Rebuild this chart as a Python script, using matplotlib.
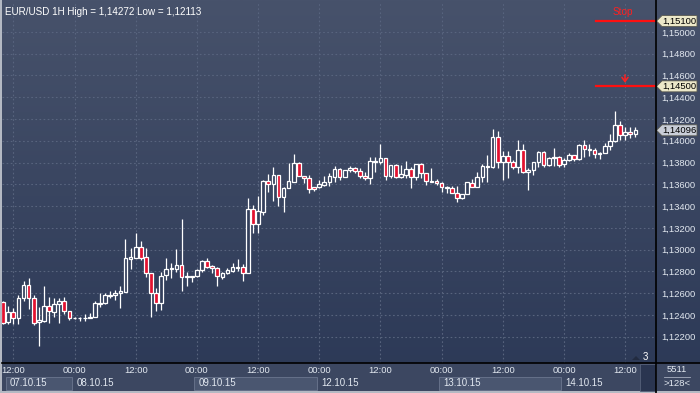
import numpy as np
import matplotlib.pyplot as plt
from matplotlib.patches import Rectangle, Polygon
from matplotlib.colors import LinearSegmentedColormap

plt.rcParams['font.family'] = ['Liberation Sans', 'DejaVu Sans']

# EUR/USD hourly bars, 07.10.15 10:00 -> 14.10.15 14:00 (weekend skipped)
opens = [
    1.12519, 1.12338, 1.12424, 1.12369, 1.12558, 1.12675, 1.12558, 1.12335, 1.12344, 1.12482,
    1.12430, 1.12498, 1.12528, 1.12436, 1.12372, 1.12372, 1.12372, 1.12372, 1.12384, 1.12500,
    1.12507, 1.12574, 1.12583, 1.12599, 1.12613, 1.12911, 1.12926, 1.13024, 1.12932, 1.12782,
    1.12599, 1.12507, 1.12767, 1.12819, 1.12825, 1.12856, 1.12746, 1.12749, 1.12758, 1.12813,
    1.12895, 1.12850, 1.12828, 1.12751, 1.12782, 1.12806, 1.12834, 1.12843, 1.12788, 1.13373,
    1.13233, 1.13348, 1.13630, 1.13600, 1.13686, 1.13481, 1.13563, 1.13624, 1.13793, 1.13676,
    1.13655, 1.13573, 1.13573, 1.13594, 1.13619, 1.13670, 1.13738, 1.13664, 1.13731, 1.13747,
    1.13722, 1.13679, 1.13655, 1.13802, 1.13802, 1.13844, 1.13679, 1.13777, 1.13670, 1.13686,
    1.13741, 1.13670, 1.13784, 1.13701, 1.13630, 1.13630, 1.13609, 1.13569, 1.13569, 1.13523,
    1.13472, 1.13508, 1.13609, 1.13578, 1.13670, 1.13756, 1.13756, 1.14032, 1.13802, 1.13860,
    1.13802, 1.13756, 1.13915, 1.13716, 1.13729, 1.13802, 1.13900, 1.13777, 1.13839, 1.13854,
    1.13787, 1.13823, 1.13869, 1.13830, 1.13961, 1.13918, 1.13915, 1.13878, 1.13885, 1.13952,
    1.14001, 1.14145, 1.14053, 1.14078, 1.14059,
]
highs = [
    1.12528, 1.12482, 1.12461, 1.12583, 1.12712, 1.12742, 1.12583, 1.12473, 1.12669, 1.12567,
    1.12553, 1.12553, 1.12567, 1.12436, 1.12382, 1.12384, 1.12406, 1.12415, 1.12528, 1.12599,
    1.12599, 1.12620, 1.12629, 1.12666, 1.13095, 1.13012, 1.13153, 1.13079, 1.13012, 1.12785,
    1.12645, 1.12792, 1.12920, 1.12874, 1.13003, 1.13281, 1.12797, 1.12758, 1.12819, 1.12905,
    1.12926, 1.12859, 1.12843, 1.12797, 1.12828, 1.12874, 1.12911, 1.12868, 1.13472, 1.13410,
    1.13493, 1.13640, 1.13692, 1.13762, 1.13686, 1.13578, 1.13793, 1.13878, 1.13808, 1.13676,
    1.13686, 1.13575, 1.13640, 1.13679, 1.13701, 1.13771, 1.13753, 1.13731, 1.13771, 1.13762,
    1.13753, 1.13716, 1.13848, 1.13848, 1.13970, 1.13844, 1.13777, 1.13787, 1.13777, 1.13814,
    1.13762, 1.13784, 1.13799, 1.13701, 1.13753, 1.13649, 1.13619, 1.13587, 1.13584, 1.13584,
    1.13508, 1.13624, 1.13649, 1.13710, 1.13784, 1.13869, 1.14108, 1.14093, 1.13906, 1.13906,
    1.13823, 1.14007, 1.13968, 1.13747, 1.13802, 1.13906, 1.13906, 1.13854, 1.13936, 1.13860,
    1.13844, 1.13885, 1.13869, 1.13968, 1.14007, 1.13968, 1.13931, 1.13900, 1.13977, 1.14059,
    1.14272, 1.14184, 1.14129, 1.14124, 1.14129,
]
lows = [
    1.12317, 1.12314, 1.12314, 1.12314, 1.12528, 1.12452, 1.12307, 1.12113, 1.12338, 1.12329,
    1.12384, 1.12329, 1.12406, 1.12353, 1.12362, 1.12347, 1.12347, 1.12369, 1.12381, 1.12476,
    1.12500, 1.12553, 1.12537, 1.12466, 1.12610, 1.12819, 1.12923, 1.12905, 1.12751, 1.12384,
    1.12436, 1.12445, 1.12721, 1.12737, 1.12797, 1.12623, 1.12669, 1.12705, 1.12749, 1.12797,
    1.12828, 1.12788, 1.12669, 1.12727, 1.12776, 1.12797, 1.12804, 1.12714, 1.12785, 1.13150,
    1.13150, 1.13318, 1.13532, 1.13447, 1.13404, 1.13348, 1.13563, 1.13621, 1.13673, 1.13615,
    1.13517, 1.13541, 1.13563, 1.13587, 1.13587, 1.13619, 1.13640, 1.13664, 1.13710, 1.13707,
    1.13661, 1.13640, 1.13600, 1.13710, 1.13787, 1.13640, 1.13655, 1.13655, 1.13661, 1.13655,
    1.13563, 1.13640, 1.13655, 1.13594, 1.13619, 1.13594, 1.13532, 1.13523, 1.13517, 1.13435,
    1.13465, 1.13508, 1.13573, 1.13578, 1.13624, 1.13624, 1.13747, 1.13753, 1.13640, 1.13655,
    1.13741, 1.13701, 1.13701, 1.13548, 1.13686, 1.13762, 1.13762, 1.13771, 1.13768, 1.13762,
    1.13762, 1.13814, 1.13814, 1.13823, 1.13854, 1.13863, 1.13844, 1.13830, 1.13885, 1.13915,
    1.13991, 1.14007, 1.14007, 1.14023, 1.14037,
]
closes = [
    1.12326, 1.12424, 1.12369, 1.12558, 1.12675, 1.12558, 1.12329, 1.12353, 1.12482, 1.12436,
    1.12500, 1.12528, 1.12436, 1.12369, 1.12375, 1.12375, 1.12375, 1.12384, 1.12507, 1.12512,
    1.12583, 1.12583, 1.12601, 1.12620, 1.12920, 1.12932, 1.13024, 1.12926, 1.12782, 1.12599,
    1.12507, 1.12760, 1.12819, 1.12834, 1.12856, 1.12746, 1.12758, 1.12758, 1.12813, 1.12895,
    1.12843, 1.12828, 1.12758, 1.12782, 1.12813, 1.12843, 1.12843, 1.12788, 1.13373, 1.13233,
    1.13355, 1.13630, 1.13600, 1.13686, 1.13481, 1.13563, 1.13630, 1.13793, 1.13676, 1.13655,
    1.13554, 1.13554, 1.13603, 1.13619, 1.13676, 1.13738, 1.13664, 1.13731, 1.13753, 1.13722,
    1.13679, 1.13655, 1.13814, 1.13814, 1.13839, 1.13679, 1.13777, 1.13670, 1.13692, 1.13741,
    1.13670, 1.13784, 1.13701, 1.13630, 1.13624, 1.13609, 1.13573, 1.13578, 1.13523, 1.13472,
    1.13508, 1.13619, 1.13578, 1.13670, 1.13771, 1.13768, 1.14032, 1.13802, 1.13860, 1.13802,
    1.13756, 1.13915, 1.13716, 1.13729, 1.13802, 1.13900, 1.13777, 1.13844, 1.13854, 1.13777,
    1.13823, 1.13869, 1.13830, 1.13961, 1.13922, 1.13924, 1.13876, 1.13885, 1.13952, 1.14001,
    1.14145, 1.14053, 1.14078, 1.14059, 1.14096,
]

time_ticks = [2, 14, 26, 38, 50, 62, 74, 86, 98, 110, 122]
time_labels = ['12:00', '00:00', '12:00', '00:00', '12:00', '00:00',
               '12:00', '00:00', '12:00', '00:00', '12:00']
day_starts = [1, 14, 38, 62, 86, 110, 125]
day_labels = ['07.10.15', '08.10.15', '09.10.15', '12.10.15', '13.10.15', '14.10.15']
boxed_days = ['07.10.15', '09.10.15', '13.10.15']
price_ticks = np.arange(1.122, 1.1505, 0.002)

stop_level = 1.151
entry_level = 1.145
hi_val, lo_val = 1.14272, 1.12113

W, H = 700, 393
bg_top, bg_bot = '#47526b', '#2b3856'
txt_col = '#e2e8f0'
red = '#e3122f'


def fmt(v):
    return f'{v:.5f}'.replace('.', ',')


fig = plt.figure(figsize=(W / 100, H / 100), dpi=100)

# background gradient + bottom panel
bg = fig.add_axes([0, 0, 1, 1])
bg.set_xlim(0, W)
bg.set_ylim(0, H)
bg.axis('off')
cmap = LinearSegmentedColormap.from_list('bg', [bg_top, bg_bot])
bg.imshow(np.linspace(0, 1, 256).reshape(-1, 1), cmap=cmap, aspect='auto',
          extent=[0, W, 0, H], origin='upper')
bg.add_patch(Rectangle((0, 0), W, 30, color='#3c4761', lw=0))
bg.add_patch(Rectangle((0, 0), 2, H, color='#b4b9c3', lw=0))
bg.add_patch(Rectangle((0, 0), W, 2, color='#b4b9c3', lw=0))

# price chart
ax = fig.add_axes([2 / W, 30 / H, 654 / W, 361 / H])
ax.set_facecolor('none')
ax.set_xlim(-0.22, 128.05)
ax.set_ylim(1.11958, 1.15275)
for s in ax.spines.values():
    s.set_visible(False)

for k in time_ticks:
    ax.axvline(k, color='#58647e', lw=0.8, ls=(0, (1.5, 2.2)), zorder=0)
for p in price_ticks:
    ax.axhline(p, color='#58647e', lw=0.8, ls=(0, (1.5, 2.2)), zorder=0)

bw = 0.72
for i in range(len(opens)):
    o, h, l, c = opens[i], highs[i], lows[i], closes[i]
    top, bot = max(o, c), min(o, c)
    ax.vlines(i, top, h, color='white', lw=0.9, zorder=2)
    ax.vlines(i, l, bot, color='white', lw=0.9, zorder=2)
    fc = red if c < o else '#34405c'
    ax.add_patch(Rectangle((i - bw / 2, bot), bw, max(top - bot, 0.00002),
                           facecolor=fc, edgecolor='white', lw=0.9, zorder=3))

ax.yaxis.tick_right()
ax.set_yticks(price_ticks)
ax.set_yticklabels([fmt(p) for p in price_ticks])
ax.tick_params(axis='y', length=0, pad=3.5, labelsize=6.8, colors=txt_col)
ax.set_xticks(time_ticks)
ax.set_xticklabels(time_labels)
ax.tick_params(axis='x', length=0, pad=2.2, labelsize=6.8, colors=txt_col)

# day boxes on the bottom axis
xt = ax.get_xaxis_transform()
for j, lab in enumerate(day_labels):
    a, b = day_starts[j], day_starts[j + 1]
    if lab in boxed_days:
        ax.add_patch(Rectangle((a - 0.5, -0.0748), b - a, 0.0368, transform=xt,
                               facecolor='#4a5670', edgecolor='#66718a', lw=0.7,
                               clip_on=False))
    ax.text(a + 0.35, -0.0554, lab, transform=xt, ha='left', va='center',
            fontsize=7, color=txt_col, clip_on=False)

# title
ax.text(0.005, 0.985, f'EUR/USD 1H High = {fmt(hi_val)} Low = {fmt(lo_val)}',
        transform=ax.transAxes, ha='left', va='top', fontsize=7.1, color='white')

# order levels
yt = ax.get_yaxis_transform()
ax.plot([0.908, 1.0], [stop_level, stop_level], color='#ff1010', lw=1.6,
        transform=yt, zorder=4)
ax.plot([0.908, 1.0], [entry_level, entry_level], color='#ff1010', lw=1.6,
        transform=yt, zorder=4)

# overlay: separators, price tags, status
ov = fig.add_axes([0, 0, 1, 1])
ov.set_facecolor('none')
ov.set_xlim(0, W)
ov.set_ylim(0, H)
ov.axis('off')
ov.plot([2, W], [30, 30], color='black', lw=1.2)
ov.plot([656, 656], [0, H], color='black', lw=1.2)

y_stop = ax.transData.transform((0, stop_level))[1]
y_entry = ax.transData.transform((0, entry_level))[1]
ov.text(623, y_stop + 9.5, 'Stop', ha='center', va='center', fontsize=7.2,
        color='#ff2020')
ov.annotate('', xy=(625, y_entry + 3.5), xytext=(625, y_entry + 11.5),
            arrowprops=dict(arrowstyle='->,head_length=0.3,head_width=0.22',
                            color='#ff2020', lw=1.1, shrinkA=0, shrinkB=0))


def tag(price, face, txt):
    yc = ax.transData.transform((0, price))[1]
    ov.add_patch(Polygon([(656.5, yc), (662, yc + 5.5), (697, yc + 5.5), (697, yc - 5.5),
                          (662, yc - 5.5)], closed=True, facecolor=face,
                         edgecolor='#5a5a50', lw=0.6))
    ov.text(662.5, yc, txt, ha='left', va='center', fontsize=6.8, color='black')


tag(stop_level, '#ece8c9', fmt(stop_level))
tag(entry_level, '#ece8c9', fmt(entry_level))
tag(closes[-1], '#c9ced8', fmt(closes[-1]))

ov.add_patch(Rectangle((640, 2), 15.5, 27, facecolor='#2a3550', edgecolor='#56617a', lw=0.6))
ov.add_patch(Polygon([(632, 33), (636, 37), (640, 33)], closed=True, facecolor='#222b40',
                     edgecolor='none'))
ov.text(645, 36, '3', ha='center', va='center', fontsize=7, color='white')
ov.text(677, 23, '5511', ha='center', va='center', fontsize=6.8, color=txt_col)
ov.plot([664, 690], [16.5, 16.5], color='#a8b0c0', lw=0.6)
ov.text(677, 9.5, '>128<', ha='center', va='center', fontsize=6.8, color=txt_col)

fig.savefig('out.png', dpi=100)
